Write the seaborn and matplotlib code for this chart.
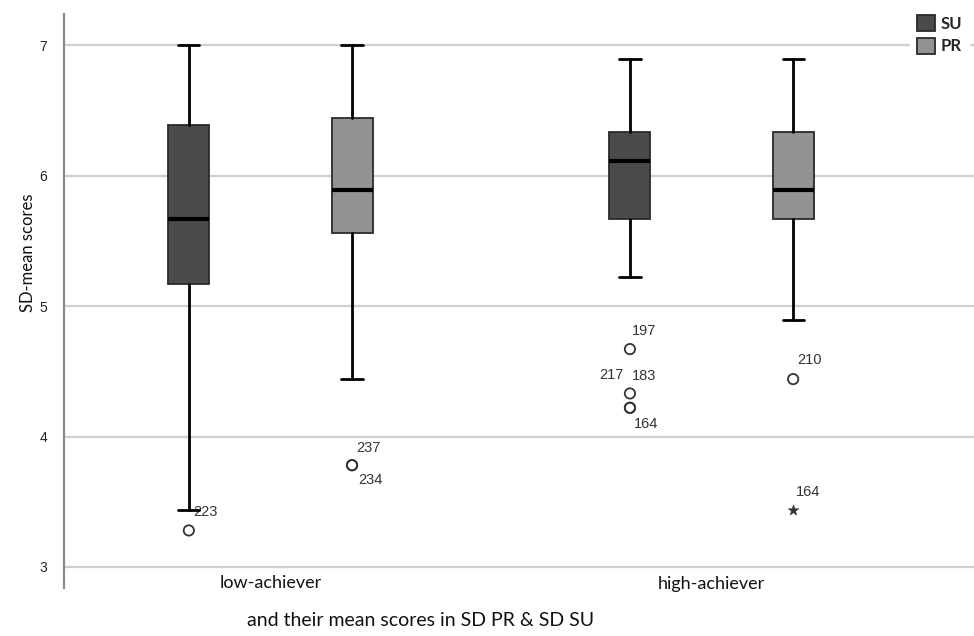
import matplotlib
matplotlib.use("Agg")
import matplotlib.pyplot as plt
import seaborn as sns
import pandas as pd
from matplotlib.patches import Patch

# ---------------- data ----------------
groups = ["low-achiever", "high-achiever"]
series = ["SU", "PR"]
series_colors = ["#4b4b4b", "#939393"]

# box statistics, order: (low SU, low PR, high SU, high PR)
box_group = ["low-achiever", "low-achiever", "high-achiever", "high-achiever"]
box_series = ["SU", "PR", "SU", "PR"]
whisker_low = [3.44, 4.44, 5.22, 4.89]
quart1 = [5.17, 5.56, 5.67, 5.67]
median = [5.67, 5.89, 6.11, 5.89]
quart3 = [6.39, 6.44, 6.33, 6.33]
whisker_high = [7.00, 7.00, 6.89, 6.89]

# outliers
out_group = ["low-achiever", "low-achiever", "low-achiever",
             "high-achiever", "high-achiever", "high-achiever", "high-achiever",
             "high-achiever", "high-achiever"]
out_series = ["SU", "PR", "PR", "SU", "SU", "SU", "SU", "PR", "PR"]
out_value = [3.28, 3.78, 3.78, 4.67, 4.33, 4.22, 4.22, 4.44, 3.44]
out_id = ["223", "237", "234", "197", "183", "217", "164", "210", "164"]
out_kind = ["outlier", "outlier", "outlier", "outlier", "outlier", "outlier",
            "outlier", "outlier", "extreme"]

y_ticks = [3, 4, 5, 6, 7]

# ---------------- layout / style ----------------
OFFSET = 0.185          # dodge of the two series inside a group
BOX_W = 0.093
CAP_W = 0.048
# label offsets in pixels (dx, dy, ha, va)
label_pos = [(4, 11, "left", "bottom"), (4, 10, "left", "bottom"),
             (6, -8, "left", "top"), (2, 11, "left", "bottom"),
             (2, 10, "left", "bottom"), (-6, 26, "right", "bottom"),
             (4, -9, "left", "top"), (4, 12, "left", "bottom"),
             (3, 11, "left", "bottom")]

sns.set_theme(style="white")
plt.rcParams["font.family"] = ["Liberation Sans", "DejaVu Sans"]

fig = plt.figure(figsize=(9.74, 6.36), dpi=100)
ax = fig.add_axes([64 / 974, 48 / 636, 910 / 974, 574 / 636])

def xpos(g, s):
    return groups.index(g) + (-OFFSET if s == "SU" else OFFSET)

stats = []
positions = []
for g, s, lo, a, m, b, hi in zip(box_group, box_series, whisker_low, quart1,
                                 median, quart3, whisker_high):
    stats.append(dict(whislo=lo, q1=a, med=m, q3=b, whishi=hi, fliers=[]))
    positions.append(xpos(g, s))

bp = ax.bxp(stats, positions=positions, widths=BOX_W, capwidths=CAP_W,
            patch_artist=True, showfliers=False,
            boxprops=dict(edgecolor="#2a2a2a", linewidth=1.3),
            medianprops=dict(color="black", linewidth=3),
            whiskerprops=dict(color="black", linewidth=2),
            capprops=dict(color="black", linewidth=2))
for patch, s in zip(bp["boxes"], box_series):
    patch.set_facecolor(series_colors[series.index(s)])
    patch.set_zorder(3)
for key in ("medians", "whiskers", "caps"):
    for ln in bp[key]:
        ln.set_zorder(4)

df_out = pd.DataFrame({"x": [xpos(g, s) for g, s in zip(out_group, out_series)],
                       "value": out_value, "kind": out_kind, "id": out_id})

circ = df_out[df_out["kind"] == "outlier"]
sns.scatterplot(data=circ, x="x", y="value", marker="o", s=55,
                facecolor="none", edgecolor="#333333", linewidth=1.3,
                ax=ax, zorder=5, legend=False)
ext = df_out[df_out["kind"] == "extreme"]
sns.scatterplot(data=ext, x="x", y="value", marker="*", s=60,
                color="#333333", edgecolor="#333333", linewidth=0.5,
                ax=ax, zorder=5, legend=False)

for (x, v, i), (dx, dy, ha, va) in zip(zip(df_out["x"], df_out["value"], df_out["id"]), label_pos):
    ax.annotate(i, (x, v), xytext=(dx, dy), textcoords="offset pixels",
                ha=ha, va=va, fontsize=10.5, color="#333333",
                family=["Liberation Sans", "DejaVu Sans"])

ax.set_ylim(2.839, 7.238)
ax.set_xlim(-0.468, 1.595)
ax.set_yticks(y_ticks)
ax.set_yticklabels([str(t) for t in y_ticks], fontsize=10, color="#222222")
ax.set_xticks(range(len(groups)))
ax.set_xticklabels(groups, fontsize=13, family=["Lato", "DejaVu Sans"], color="#111111")
ax.tick_params(axis="both", length=0)
ax.tick_params(axis="y", pad=12)
ax.tick_params(axis="x", pad=-9)
ax.set_xlabel("")
ax.set_ylabel("")
ax.yaxis.grid(True, color="#cfcfcf", linewidth=1.6, zorder=0)
ax.xaxis.grid(False)
ax.set_axisbelow(True)
sns.despine(ax=ax, left=False, bottom=True, top=True, right=True)
ax.spines["left"].set_color("#8a8a8a")
ax.spines["left"].set_linewidth(1.6)

fig.text(28 / 974, 1 - 253 / 636, "SD-mean scores", rotation=90, ha="center",
         va="center", fontsize=12, family=["Lato", "DejaVu Sans"], color="#111111")
fig.text(421 / 974, 1 - 621 / 636, "and their mean scores in SD PR & SD SU",
         ha="center", va="center", fontsize=14, family=["Lato", "DejaVu Sans"],
         color="#111111")

handles = [Patch(facecolor=c, edgecolor="#2a2a2a", linewidth=1.3, label=s)
           for s, c in zip(series, series_colors)]
leg = fig.legend(handles=handles, loc="upper right", bbox_to_anchor=(1.003, 1.0),
                 frameon=True, fancybox=False, framealpha=1, edgecolor="white",
                 facecolor="white", handlelength=1.1, handleheight=1.1,
                 handletextpad=0.3, labelspacing=0.35, borderpad=0.4,
                 prop=dict(family=["Lato", "DejaVu Sans"], weight="bold", size=12))

fig.savefig("out.png", dpi=100)
